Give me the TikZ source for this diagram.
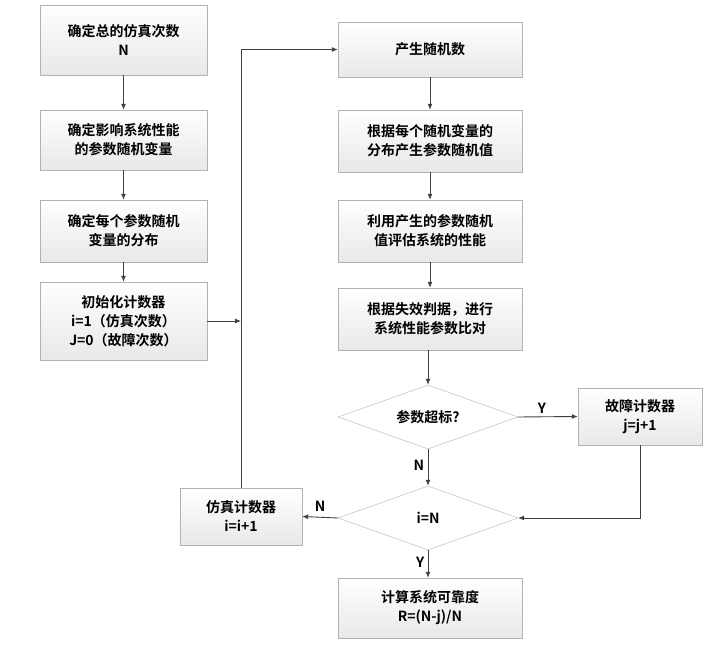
\documentclass[tikz,border=0pt]{standalone}
\usepackage{fontspec}
\setmainfont{Noto Sans CJK SC Bold}
\usetikzlibrary{shapes.geometric,arrows.meta}
\begin{document}
\begin{tikzpicture}[x=1pt,y=-1pt,
  box/.style={draw=gray!60,top color=white,bottom color=gray!18,align=center,inner sep=0pt,font=\fontsize{14}{19}\selectfont},
  dia/.style={draw=gray!60,fill=white,diamond,aspect=2.8,inner sep=0pt,font=\fontsize{14}{19}\selectfont},
  arr/.style={draw=black!75,line width=0.9pt,-{Latex[length=6pt,width=5pt]}},
  lab/.style={font=\fontsize{14}{17}\selectfont}]
\useasboundingbox (0,0) rectangle (716,647);
\node[box,minimum width=167,minimum height=70] (a1) at (123.5,40) {确定总的仿真次数\\N};
\node[box,minimum width=167,minimum height=60] (a2) at (123.5,140) {确定影响系统性能\\的参数随机变量};
\node[box,minimum width=167,minimum height=62] (a3) at (123.5,231) {确定每个参数随机\\变量的分布};
\node[box,minimum width=167,minimum height=78] (a4) at (123.5,321) {初始化计数器\\i=1（仿真次数）\\J=0（故障次数）};
\node[box,minimum width=184,minimum height=55] (b1) at (430,49.5) {产生随机数};
\node[box,minimum width=184,minimum height=62] (b2) at (430,141) {根据每个随机变量的\\分布产生参数随机值};
\node[box,minimum width=184,minimum height=62] (b3) at (430,231) {利用产生的参数随机\\值评估系统的性能};
\node[box,minimum width=184,minimum height=62] (b4) at (430,319) {根据失效判据，进行\\系统性能参数比对};
\node[dia,minimum width=180,minimum height=64] (d1) at (428,417) {参数超标?};
\node[box,minimum width=124,minimum height=57] (f) at (640,416.5) {故障计数器\\j=j+1};
\node[dia,minimum width=180,minimum height=64] (d2) at (428,518) {i=N};
\node[box,minimum width=122,minimum height=57] (s) at (241,516.5) {仿真计数器\\i=i+1};
\node[box,minimum width=184,minimum height=60] (e) at (430,608) {计算系统可靠度\\R=(N-j)/N};
\coordinate (j) at (241,321);
\draw[arr] (a1) -- (a2);
\draw[arr] (a2) -- (a3);
\draw[arr] (a3) -- (a4);
\draw[arr] (a4.east) -- (j);
\draw[arr] (s.north) -- (241,49.5) -- (b1.west);
\draw[arr] (b1) -- (b2);
\draw[arr] (b2) -- (b3);
\draw[arr] (b3) -- (b4);
\draw[arr] (b4.south -| d1.north) -- (d1.north);
\draw[arr] (d1.east) -- node[lab,above,pos=0.4]{Y} (f.west);
\draw[arr] (d1.south) -- node[lab,left,pos=0.45]{N} (d2.north);
\draw[arr] (f.south) -- (640,518) -- (d2.east);
\draw[arr] (d2.west) -- node[lab,above,pos=0.5,yshift=2]{N} (s.east);
\draw[arr] (d2.south) -- node[lab,left,pos=0.45]{Y} (e.north -| d2.south);
\end{tikzpicture}
\end{document}
